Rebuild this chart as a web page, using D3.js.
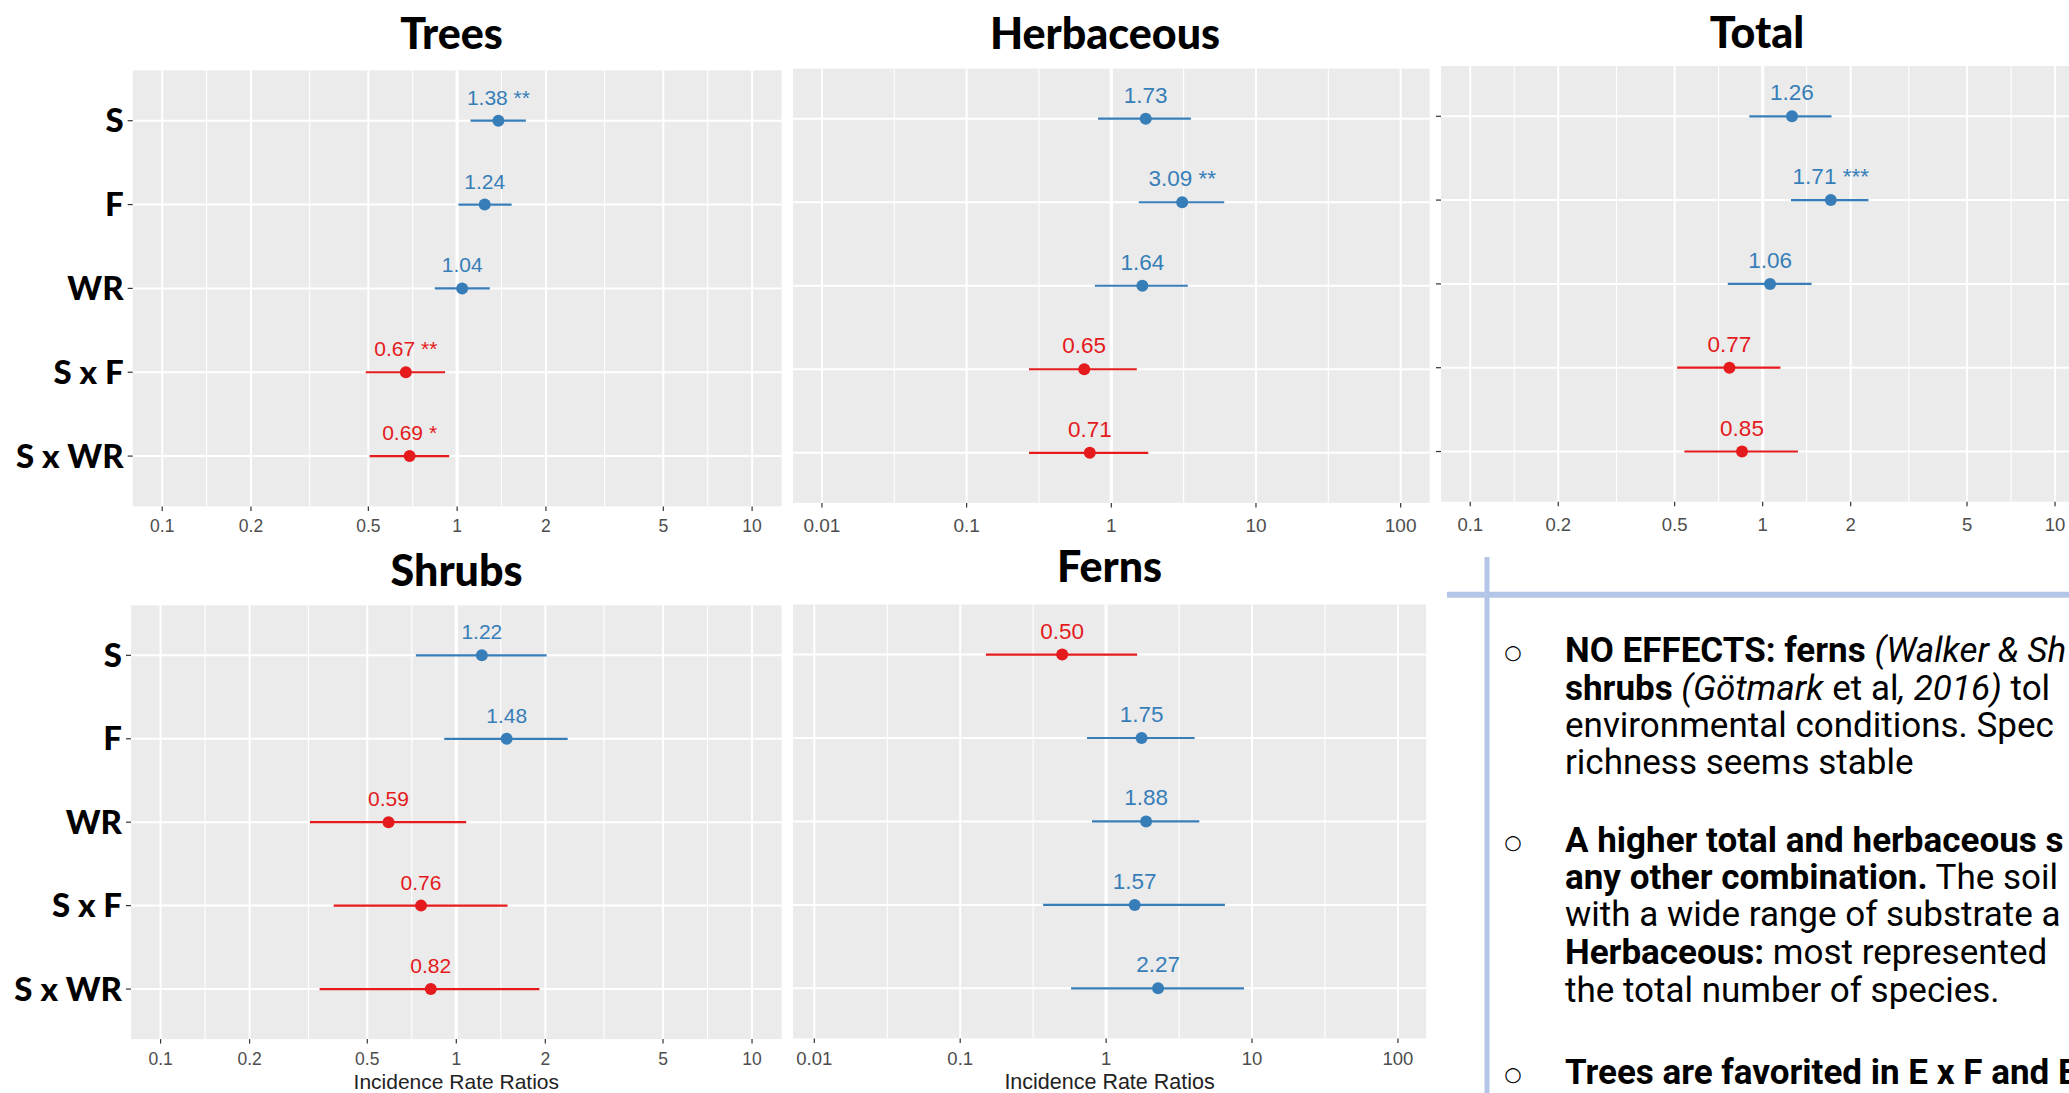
<!DOCTYPE html>
<html>
<head>
<meta charset="utf-8">
<script src="https://cdn.jsdelivr.net/npm/d3@7"></script>
<style>
  html, body { margin: 0; padding: 0; background: #fff; overflow: hidden; }
  svg { display: block; }
</style>
</head>
<body>
<svg id="chart" width="2069" height="1093"></svg>
<script>
// model terms, top to bottom
const terms = ['S', 'F', 'WR', 'S x F', 'S x WR'];

// incidence rate ratios and 95% CI
const treesEstimates = [1.38, 1.24, 1.04, 0.67, 0.69];
const treesLower = [1.11, 1.01, 0.84, 0.49, 0.505];
const treesUpper = [1.71, 1.53, 1.29, 0.91, 0.94];
const treesStars = ['**', '', '', '**', '*'];

const herbEstimates = [1.73, 3.09, 1.64, 0.65, 0.71];
const herbLower = [0.81, 1.55, 0.77, 0.27, 0.27];
const herbUpper = [3.55, 6.03, 3.38, 1.5, 1.8];
const herbStars = ['', '**', '', '', ''];

const totalEstimates = [1.26, 1.71, 1.06, 0.77, 0.85];
const totalLower = [0.9, 1.25, 0.76, 0.51, 0.54];
const totalUpper = [1.72, 2.3, 1.47, 1.15, 1.32];
const totalStars = ['', '***', '', '', ''];

const shrubsEstimates = [1.22, 1.48, 0.59, 0.76, 0.82];
const shrubsLower = [0.73, 0.91, 0.32, 0.385, 0.345];
const shrubsUpper = [2.02, 2.38, 1.08, 1.49, 1.91];
const shrubsStars = ['', '', '', '', ''];

const fernsEstimates = [0.5, 1.75, 1.88, 1.57, 2.27];
const fernsLower = [0.15, 0.74, 0.8, 0.37, 0.575];
const fernsUpper = [1.63, 4.04, 4.35, 6.52, 8.81];
const fernsStars = ['', '', '', '', ''];

// axis breaks
const narrowTicks = [0.1, 0.2, 0.5, 1, 2, 5, 10];
const wideTicks = [0.01, 0.1, 1, 10, 100];

const xAxisTitle = 'Incidence Rate Ratios';

const blue = '#377eb8';
const red = '#e41a1c';

const panels = [
  {
    title: 'Trees', est: treesEstimates, lo: treesLower, hi: treesUpper, stars: treesStars, ticks: narrowTicks,
    left: 132.7, right: 781.6, top: 70.4, bottom: 506.4, logDomain: [-1.1, 1.1],
    titleX: 451.5, titleY: 49, valueSize: 21, tickSize: 17.5, tickGap: 26, yLabels: true, yTicks: true,
  },
  {
    title: 'Herbaceous', est: herbEstimates, lo: herbLower, hi: herbUpper, stars: herbStars, ticks: wideTicks,
    left: 793, right: 1429.6, top: 68.6, bottom: 502.9, logDomain: [-2.2, 2.2],
    titleX: 1105, titleY: 49, valueSize: 22.5, tickSize: 19, tickGap: 29,
  },
  {
    title: 'Total', est: totalEstimates, lo: totalLower, hi: totalUpper, stars: totalStars, ticks: narrowTicks,
    left: 1441, right: 2084.3, top: 66, bottom: 501.8, logDomain: [-1.1, 1.1],
    titleX: 1757, titleY: 48, valueSize: 22.5, tickSize: 18.5, tickGap: 29, yTicks: true,
  },
  {
    title: 'Shrubs', est: shrubsEstimates, lo: shrubsLower, hi: shrubsUpper, stars: shrubsStars, ticks: narrowTicks,
    left: 131, right: 781.6, top: 605.3, bottom: 1039.1, logDomain: [-1.1, 1.1],
    titleX: 456.6, titleY: 586, valueSize: 21, tickSize: 17.5, tickGap: 26, yLabels: true, yTicks: true,
    xTitleY: 1088.5, xTitleSize: 21,
  },
  {
    title: 'Ferns', est: fernsEstimates, lo: fernsLower, hi: fernsUpper, stars: fernsStars, ticks: wideTicks,
    left: 793, right: 1426.1, top: 604.5, bottom: 1038.4, logDomain: [-2.146, 2.193],
    titleX: 1109.6, titleY: 582, valueSize: 22.5, tickSize: 18.5, tickGap: 27,
    xTitleY: 1088.5, xTitleSize: 21.5,
  },
];

const svg = d3.select('#chart');
svg.append('rect').attr('width', 2069).attr('height', 1093).attr('fill', '#fff');

function drawPanel(p) {
  const g = svg.append('g');
  const x = d3.scaleLog()
    .domain(p.logDomain.map((v) => Math.pow(10, v)))
    .range([p.left, p.right]);
  const y = d3.scalePoint().domain(terms).range([p.top, p.bottom]).padding(0.6);

  g.append('rect')
    .attr('x', p.left).attr('y', p.top)
    .attr('width', p.right - p.left).attr('height', p.bottom - p.top)
    .attr('fill', '#ebebeb');

  // minor grid: midpoints between major breaks on the log scale
  const minors = d3.pairs(p.ticks).map(([a, b]) => Math.sqrt(a * b));
  g.selectAll('.minor').data(minors).join('line')
    .attr('x1', (d) => x(d)).attr('x2', (d) => x(d))
    .attr('y1', p.top).attr('y2', p.bottom)
    .attr('stroke', '#fff').attr('stroke-width', 1.1);

  g.selectAll('.major').data(p.ticks).join('line')
    .attr('x1', (d) => x(d)).attr('x2', (d) => x(d))
    .attr('y1', p.top).attr('y2', p.bottom)
    .attr('stroke', '#fff').attr('stroke-width', (d) => (d === 1 ? 3.2 : 2));

  g.selectAll('.hgrid').data(terms).join('line')
    .attr('x1', p.left).attr('x2', p.right)
    .attr('y1', (d) => y(d)).attr('y2', (d) => y(d))
    .attr('stroke', '#fff').attr('stroke-width', 2);

  // x axis ticks and labels
  g.selectAll('.xtick').data(p.ticks).join('line')
    .attr('x1', (d) => x(d)).attr('x2', (d) => x(d))
    .attr('y1', p.bottom).attr('y2', p.bottom + 4.5)
    .attr('stroke', '#333').attr('stroke-width', 1.2);

  g.selectAll('.xlabel').data(p.ticks).join('text')
    .attr('x', (d) => x(d)).attr('y', p.bottom + p.tickGap)
    .attr('text-anchor', 'middle')
    .attr('font-family', 'Liberation Sans, Arial, sans-serif')
    .attr('font-size', p.tickSize)
    .attr('fill', '#4d4d4d')
    .text((d) => String(d));

  if (p.yTicks) {
    g.selectAll('.ytick').data(terms).join('line')
      .attr('x1', p.left - 5).attr('x2', p.left)
      .attr('y1', (d) => y(d)).attr('y2', (d) => y(d))
      .attr('stroke', '#333').attr('stroke-width', 1.2);
  }

  if (p.yLabels) {
    g.selectAll('.ylabel').data(terms).join('text')
      .attr('x', p.left - 9).attr('y', (d) => y(d) + 11.5)
      .attr('text-anchor', 'end')
      .attr('font-family', 'Lato, sans-serif')
      .attr('font-weight', 900)
      .attr('font-size', 33)
      .attr('fill', '#000')
      .text((d) => d);
  }

  const rows = terms.map((term, i) => ({
    term, est: p.est[i], lo: p.lo[i], hi: p.hi[i], stars: p.stars[i],
  }));
  const colorOf = (d) => (d.est > 1 ? blue : red);

  g.selectAll('.ci').data(rows).join('line')
    .attr('x1', (d) => x(d.lo)).attr('x2', (d) => x(d.hi))
    .attr('y1', (d) => y(d.term)).attr('y2', (d) => y(d.term))
    .attr('stroke', colorOf).attr('stroke-width', 2.2);

  g.selectAll('.dot').data(rows).join('circle')
    .attr('cx', (d) => x(d.est)).attr('cy', (d) => y(d.term))
    .attr('r', 6)
    .attr('fill', colorOf);

  g.selectAll('.value').data(rows).join('text')
    .attr('x', (d) => x(d.est)).attr('y', (d) => y(d.term) - 16)
    .attr('text-anchor', 'middle')
    .attr('font-family', 'Liberation Sans, Arial, sans-serif')
    .attr('font-size', p.valueSize)
    .attr('fill', colorOf)
    .text((d) => d.est.toFixed(2) + (d.stars ? ' ' + d.stars : ''));

  g.append('text')
    .attr('x', p.titleX).attr('y', p.titleY)
    .attr('text-anchor', 'middle')
    .attr('font-family', 'Lato, sans-serif')
    .attr('font-weight', 900)
    .attr('font-size', 43)
    .attr('fill', '#000')
    .text(p.title);

  if (p.xTitleY) {
    g.append('text')
      .attr('x', (p.left + p.right) / 2).attr('y', p.xTitleY)
      .attr('text-anchor', 'middle')
      .attr('font-family', 'Liberation Sans, Arial, sans-serif')
      .attr('font-size', p.xTitleSize)
      .attr('fill', '#222')
      .text(xAxisTitle);
  }
}

panels.forEach(drawPanel);

// notes block, bottom right
const notes = [
  { bullet: true, y: 662, parts: [['NO EFFECTS: ferns', 'b'], [' ', 'n'], ['(Walker & Sh', 'i']] },
  { y: 700, parts: [['shrubs', 'b'], [' ', 'n'], ['(Götmark', 'i'], [' et al', 'n'], [', 2016)', 'i'], [' tol', 'n']] },
  { y: 737, parts: [['environmental conditions. Spec', 'n']] },
  { y: 774, parts: [['richness seems stable', 'n']] },
  { bullet: true, y: 852, parts: [['A higher total and herbaceous s', 'b']] },
  { y: 889, parts: [['any other combination.', 'b'], [' The soil', 'n']] },
  { y: 926, parts: [['with a wide range of substrate a', 'n']] },
  { y: 964, parts: [['Herbaceous:', 'b'], [' most represented', 'n']] },
  { y: 1002, parts: [['the total number of species.', 'n']] },
  { bullet: true, y: 1084, parts: [['Trees are favorited in E x F and E', 'b']] },
];

const notesG = svg.append('g');
notesG.append('line')
  .attr('x1', 1447).attr('x2', 2069).attr('y1', 594.7).attr('y2', 594.7)
  .attr('stroke', '#b4c6e7').attr('stroke-width', 6);
notesG.append('line')
  .attr('x1', 1487).attr('x2', 1487).attr('y1', 557).attr('y2', 1093)
  .attr('stroke', '#b4c6e7').attr('stroke-width', 5);

notesG.selectAll('.bullet').data(notes.filter((d) => d.bullet)).join('text')
  .attr('x', 1513).attr('y', (d) => d.y - 3)
  .attr('text-anchor', 'middle')
  .attr('font-family', 'DejaVu Sans, sans-serif')
  .attr('font-size', 20)
  .attr('fill', '#000')
  .text('○');

const lineTexts = notesG.selectAll('.note').data(notes).join('text')
  .attr('x', 1565).attr('y', (d) => d.y)
  .attr('font-family', 'Roboto, sans-serif')
  .attr('font-size', 35)
  .attr('fill', '#000');

lineTexts.selectAll('tspan').data((d) => d.parts).join('tspan')
  .attr('font-weight', (d) => (d[1] === 'b' ? 700 : 400))
  .attr('font-style', (d) => (d[1] === 'i' ? 'italic' : 'normal'))
  .style('white-space', 'pre')
  .text((d) => d[0]);
</script>
</body>
</html>
